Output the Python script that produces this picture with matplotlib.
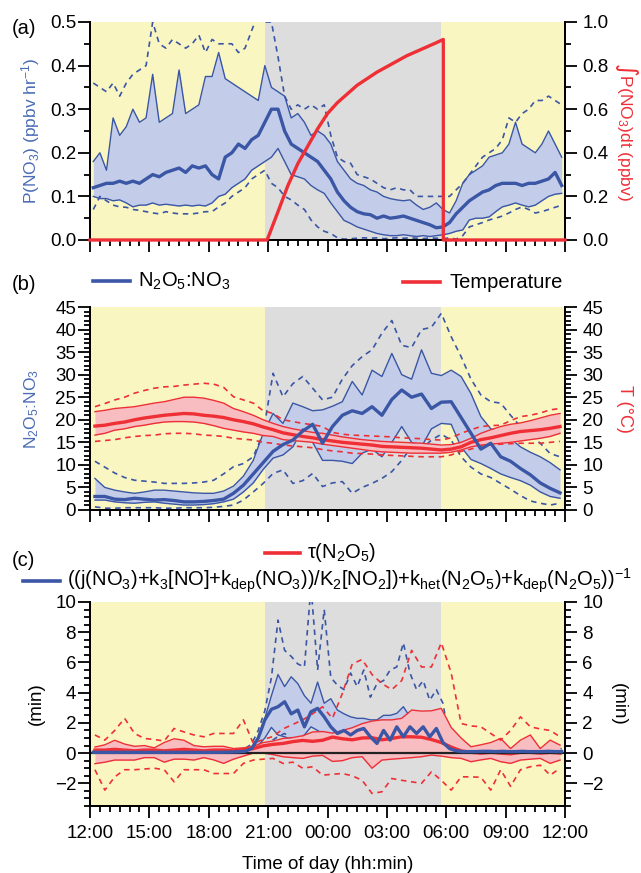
import numpy as np
import matplotlib.pyplot as plt
from matplotlib.lines import Line2D
from matplotlib.ticker import MultipleLocator

plt.rcParams['font.family'] = ['Liberation Sans', 'DejaVu Sans']
plt.rcParams['mathtext.default'] = 'regular'

# ---------------------------------------------------------------------------
# time grids, hours after 12:00 local
# ---------------------------------------------------------------------------
t20 = (np.arange(72) + 0.5) / 3.0      # 20-min bins
t30 = np.arange(48) * 0.5 + 0.25       # 30-min bins
NIGHT = (8.85, 17.72)                   # grey shading (sunset -> sunrise)

# ---------------------------------------------------------------------------
# (a) P(NO3), ppbv/hr  -- percentiles 10/25/50/75/90, 20-min bins
# ---------------------------------------------------------------------------
pno3_p50 = [0.12, 0.125, 0.13, 0.13, 0.135, 0.13, 0.135, 0.13, 0.14, 0.15, 0.145, 0.155,
            0.16, 0.165, 0.155, 0.17, 0.165, 0.17, 0.15, 0.14, 0.19, 0.20, 0.22, 0.21,
            0.23, 0.24, 0.27, 0.30, 0.30, 0.25, 0.22, 0.21, 0.20, 0.19, 0.18, 0.16,
            0.14, 0.11, 0.09, 0.075, 0.065, 0.06, 0.058, 0.05, 0.055, 0.05, 0.052, 0.055,
            0.05, 0.045, 0.04, 0.035, 0.028, 0.03, 0.04, 0.06, 0.075, 0.09, 0.10, 0.11,
            0.115, 0.125, 0.13, 0.13, 0.13, 0.125, 0.13, 0.13, 0.135, 0.14, 0.155, 0.125]
pno3_p75 = [0.18, 0.20, 0.16, 0.28, 0.24, 0.26, 0.30, 0.27, 0.28, 0.38, 0.27, 0.28,
            0.29, 0.39, 0.29, 0.30, 0.31, 0.375, 0.375, 0.43, 0.37, 0.36, 0.35, 0.34,
            0.33, 0.32, 0.40, 0.35, 0.34, 0.33, 0.28, 0.29, 0.27, 0.24, 0.25, 0.24,
            0.22, 0.18, 0.16, 0.14, 0.13, 0.125, 0.115, 0.11, 0.10, 0.095, 0.092, 0.09,
            0.092, 0.08, 0.07, 0.075, 0.085, 0.07, 0.062, 0.09, 0.13, 0.15, 0.16, 0.17,
            0.19, 0.195, 0.20, 0.22, 0.27, 0.22, 0.21, 0.20, 0.22, 0.25, 0.22, 0.19]
pno3_p25 = [0.10, 0.095, 0.095, 0.09, 0.092, 0.085, 0.076, 0.08, 0.08, 0.085, 0.08, 0.082,
            0.08, 0.078, 0.08, 0.078, 0.08, 0.078, 0.085, 0.10, 0.105, 0.12, 0.13, 0.14,
            0.16, 0.17, 0.18, 0.19, 0.21, 0.18, 0.15, 0.145, 0.14, 0.125, 0.115, 0.107,
            0.085, 0.065, 0.045, 0.038, 0.03, 0.025, 0.02, 0.015, 0.012, 0.01, 0.01, 0.012,
            0.01, 0.008, 0.01, 0.008, 0.01, 0.012, 0.015, 0.02, 0.023, 0.046, 0.05, 0.05,
            0.053, 0.065, 0.076, 0.08, 0.085, 0.08, 0.076, 0.08, 0.09, 0.10, 0.105, 0.107]
pno3_p90 = [0.36, 0.35, 0.34, 0.36, 0.33, 0.36, 0.38, 0.39, 0.40, 0.50, 0.45, 0.44,
            0.46, 0.45, 0.44, 0.45, 0.47, 0.43, 0.46, 0.45, 0.45, 0.45, 0.43, 0.44,
            0.48, 0.52, 0.50, 0.50, 0.42, 0.33, 0.30, 0.31, 0.30, 0.31, 0.30, 0.31,
            0.24, 0.19, 0.18, 0.176, 0.15, 0.145, 0.14, 0.13, 0.12, 0.115, 0.12, 0.115,
            0.115, 0.10, 0.10, 0.10, 0.10, 0.10, 0.10, 0.115, 0.13, 0.15, 0.17, 0.19,
            0.20, 0.21, 0.23, 0.28, 0.27, 0.29, 0.30, 0.32, 0.32, 0.33, 0.32, 0.31]
pno3_p10 = [0.07, 0.10, 0.09, 0.08, 0.076, 0.075, 0.07, 0.068, 0.065, 0.062, 0.06, 0.065,
            0.062, 0.06, 0.06, 0.06, 0.062, 0.065, 0.065, 0.076, 0.085, 0.10, 0.11, 0.12,
            0.14, 0.15, 0.16, 0.13, 0.12, 0.10, 0.092, 0.08, 0.07, 0.046, 0.03, 0.02,
            0.015, 0.005, 0.002, 0.003, 0.004, 0.005, 0.004, 0.005, 0.003, 0.004, 0.005, 0.004,
            0.005, 0.004, 0.003, 0.005, 0.004, 0.003, 0.005, 0.002, 0.01, 0.03, 0.035, 0.04,
            0.046, 0.05, 0.055, 0.062, 0.07, 0.076, 0.07, 0.062, 0.065, 0.07, 0.075, 0.08]

# integral of P(NO3) through the night, ppbv
int_t = [0.0, 8.95, 9.5, 10.0, 10.5, 11.0, 11.5, 12.0, 12.5, 13.0, 13.5, 14.0,
         14.5, 15.0, 15.5, 16.0, 16.5, 17.0, 17.5, 17.85, 17.85, 24.0]
int_v = [0.0, 0.0, 0.13, 0.25, 0.35, 0.43, 0.51, 0.58, 0.63, 0.67, 0.71, 0.74,
         0.77, 0.795, 0.82, 0.845, 0.865, 0.885, 0.905, 0.92, 0.0, 0.0]

# ---------------------------------------------------------------------------
# (b) N2O5:NO3 ratio and temperature, 30-min bins
# ---------------------------------------------------------------------------
ratio_p50 = [3.0, 3.0, 2.4, 2.3, 2.6, 2.4, 2.2, 2.3,
             2.1, 1.8, 1.8, 1.9, 2.1, 2.4, 3.7, 5.5,
             8.0, 10.5, 13.0, 14.5, 15.5, 17.5, 19.0, 14.8,
             18.5, 21.0, 22.0, 21.4, 22.9, 21.0, 24.5, 26.6,
             25.0, 25.7, 22.5, 23.9, 24.0, 20.5, 17.0, 13.5,
             14.8, 11.8, 10.8, 9.2, 7.8, 6.0, 4.8, 3.8]
ratio_p75 = [7.0, 5.0, 4.4, 4.0, 3.7, 4.0, 4.4, 4.4,
             4.2, 4.0, 3.8, 3.7, 3.7, 4.2, 5.3, 7.5,
             11.0, 17.0, 21.4, 19.2, 23.7, 22.9, 22.0, 22.2,
             23.0, 24.0, 28.5, 25.5, 31.0, 29.6, 34.7, 30.0,
             29.0, 35.5, 30.3, 29.8, 31.0, 29.6, 25.8, 20.7,
             18.0, 17.2, 15.8, 14.0, 12.8, 11.8, 10.5, 8.9]
ratio_p25 = [2.2, 2.2, 1.8, 1.6, 1.5, 1.7, 1.8, 1.5,
             1.3, 1.1, 1.1, 1.2, 1.4, 1.8, 2.4, 4.0,
             6.0, 9.0, 11.5, 12.2, 14.0, 18.0, 15.0, 11.0,
             11.0, 10.8, 10.3, 12.6, 13.5, 11.8, 15.0, 18.5,
             15.0, 14.0, 18.0, 19.2, 19.0, 14.0, 11.2, 10.3,
             9.2, 8.0, 7.2, 6.5, 5.5, 4.0, 3.0, 2.6]
ratio_p90 = [10.8, 9.5, 8.2, 7.2, 6.6, 6.4, 6.2, 5.9,
             5.9, 5.9, 6.0, 6.2, 6.6, 8.0, 9.6, 10.3,
             11.8, 17.0, 30.3, 25.1, 28.0, 29.6, 27.0, 24.4,
             25.0, 29.0, 32.0, 34.0, 35.5, 39.2, 42.0, 36.5,
             36.0, 40.0, 40.5, 43.6, 38.4, 34.0, 29.0, 25.5,
             24.0, 23.7, 21.0, 18.5, 16.5, 14.8, 12.5, 11.8]
ratio_p10 = [0.7, 0.4, 0.4, 0.5, 0.5, 0.5, 0.5, 0.4,
             0.4, 0.5, 0.5, 0.5, 0.6, 0.8, 1.1, 2.2,
             4.0, 5.9, 8.1, 8.9, 5.9, 6.5, 8.1, 5.2,
             6.0, 6.3, 3.7, 5.0, 5.9, 7.0, 8.5, 11.0,
             14.0, 13.5, 15.5, 16.8, 15.5, 11.8, 9.5, 8.0,
             7.2, 5.9, 4.6, 3.2, 2.0, 1.5, 1.1, 1.5]

temp_p50 = [18.6, 18.8, 19.2, 19.5, 20.0, 20.4, 20.7, 21.0,
            21.2, 21.4, 21.3, 21.0, 20.8, 20.5, 20.0, 19.6,
            19.1, 18.4, 17.8, 17.1, 16.7, 16.3, 16.0, 15.6,
            15.3, 15.0, 14.8, 14.6, 14.4, 14.1, 14.0, 13.9,
            13.8, 13.7, 13.5, 13.3, 13.5, 14.0, 15.0, 15.6,
            16.0, 16.5, 17.0, 17.4, 17.6, 17.8, 18.1, 18.5]
temp_p75 = [21.8, 22.1, 22.5, 22.7, 22.9, 23.3, 23.7, 24.0,
            24.5, 25.0, 25.0, 24.8, 24.3, 23.7, 22.5, 21.8,
            21.0, 20.0, 19.2, 18.5, 18.0, 17.6, 17.2, 17.0,
            16.6, 16.2, 15.9, 15.6, 15.4, 15.2, 15.1, 15.0,
            14.9, 14.8, 14.6, 14.4, 14.5, 15.0, 15.9, 17.0,
            17.8, 18.5, 19.0, 19.3, 19.8, 20.4, 21.0, 21.4]
temp_p25 = [16.6, 17.0, 17.7, 18.0, 18.5, 18.8, 19.2, 19.5,
            19.6, 19.6, 19.5, 19.2, 18.7, 18.1, 17.7, 17.3,
            17.0, 16.5, 16.3, 15.6, 15.4, 15.2, 15.0, 14.6,
            14.3, 14.0, 13.7, 13.4, 13.1, 12.9, 12.8, 12.7,
            12.6, 12.6, 12.6, 12.6, 12.8, 13.3, 14.0, 14.4,
            14.6, 14.8, 15.0, 15.3, 15.6, 15.9, 16.3, 17.0]
temp_p90 = [22.9, 23.6, 24.4, 25.0, 25.9, 26.5, 27.0, 27.3,
            27.4, 27.7, 27.9, 28.1, 27.9, 27.2, 25.1, 24.4,
            23.7, 22.0, 21.4, 20.0, 19.6, 19.2, 18.9, 18.5,
            17.2, 16.8, 16.6, 16.5, 16.4, 16.3, 16.2, 16.0,
            15.9, 15.8, 15.6, 15.5, 16.0, 17.0, 17.8, 18.5,
            18.7, 18.8, 19.8, 20.7, 21.0, 21.5, 22.2, 22.5]
temp_p10 = [15.2, 15.4, 15.6, 16.0, 16.3, 16.5, 16.6, 16.9,
            17.0, 17.0, 16.9, 16.6, 16.5, 16.3, 15.9, 15.7,
            15.5, 15.0, 14.8, 14.4, 14.2, 14.0, 13.8, 13.4,
            13.1, 12.9, 12.6, 12.5, 12.4, 12.2, 12.1, 12.0,
            11.9, 11.8, 11.8, 11.8, 12.2, 13.0, 13.5, 14.2,
            14.4, 14.6, 14.7, 14.8, 14.8, 14.8, 15.0, 15.2]

# ---------------------------------------------------------------------------
# (c) steady-state lifetime (blue, 20-min bins) and tau(N2O5) (red, 30-min)
# ---------------------------------------------------------------------------
ss_p50 = [0.05] * 12 + \
         [0.05, 0.05, 0.05, 0.05, 0.05, 0.05, 0.05, 0.05, 0.06, 0.07, 0.09, 0.12,
          0.3, 1.0, 2.2, 2.9, 3.07, 3.4, 2.6, 2.85, 1.74, 2.74, 2.96, 2.4,
          1.74, 1.3, 1.5, 1.2, 1.5, 1.63, 1.08, 0.64, 1.5, 0.86, 1.74, 1.08,
          1.74, 1.3, 1.74, 1.08, 1.63, 0.7, 0.3, 0.15, 0.1, 0.1, 0.1, 0.12,
          0.12, 0.1, 0.12, 0.1, 0.1, 0.12, 0.1, 0.1, 0.1, 0.12, 0.1, 0.1]
ss_p75 = [0.1] * 12 + \
         [0.1, 0.1, 0.1, 0.1, 0.1, 0.1, 0.1, 0.1, 0.12, 0.14, 0.18, 0.22,
          0.35, 1.0, 2.3, 3.8, 5.2, 4.4, 5.05, 4.6, 3.8, 3.3, 4.7, 3.3,
          3.6, 2.85, 2.6, 2.4, 2.3, 2.3, 2.2, 2.2, 2.5, 2.5, 2.63, 3.07,
          2.4, 2.2, 2.0, 1.8, 1.5, 0.9, 0.5, 0.3, 0.2, 0.18, 0.18, 0.2,
          0.2, 0.18, 0.2, 0.18, 0.18, 0.2, 0.18, 0.18, 0.18, 0.2, 0.18, 0.18]
ss_p25 = [0.02] * 12 + \
         [0.02, 0.02, 0.02, 0.02, 0.02, 0.02, 0.02, 0.02, 0.02, 0.03, 0.04, 0.05,
          0.15, 0.5, 1.0, 1.7, 1.2, 1.08, 0.9, 0.75, 1.2, 1.74, 1.5, 1.2,
          1.0, 0.9, 0.8, 0.8, 0.75, 0.7, 0.7, 0.6, 0.7, 0.65, 0.7, 0.65,
          0.7, 0.65, 0.6, 0.6, 0.55, 0.35, 0.15, 0.08, 0.05, 0.05, 0.05, 0.05,
          0.05, 0.05, 0.05, 0.05, 0.05, 0.05, 0.05, 0.05, 0.05, 0.05, 0.05, 0.05]
ss_p90 = [0.15] * 12 + \
         [0.15, 0.15, 0.15, 0.15, 0.15, 0.15, 0.15, 0.15, 0.15, 0.2, 0.25, 0.3,
          0.6, 1.5, 2.8, 5.0, 8.8, 6.8, 6.4, 5.9, 5.7, 11.0, 5.5, 9.5,
          5.0, 4.5, 4.2, 5.3, 4.4, 5.5, 3.7, 4.6, 4.8, 5.5, 5.7, 7.3,
          5.3, 4.2, 4.8, 3.5, 4.2, 3.3, 0.8, 0.4, 0.3, 0.3, 0.3, 0.3,
          0.3, 0.3, 0.3, 0.3, 0.3, 0.3, 0.3, 0.3, 0.3, 0.3, 0.3, 0.3]
ss_p10 = [0.0] * 24 + \
         [0.05, 0.2, 0.4, 0.8, 1.1, 1.3, 0.97, 0.6, 0.5, 0.45, 0.4, 0.35,
          0.3, 0.3, 0.3, 0.3, 0.3, 0.3, 0.3, 0.3, 0.3, 0.3, 0.3, 0.3,
          0.3, 0.3, 0.3, 0.25, 0.2, 0.1, 0.05, 0.0, 0.0, 0.0, 0.0, 0.0] + [0.0] * 12

tau_p50 = [0.2, 0.2, 0.25, 0.2, 0.15, 0.2, 0.2, 0.15,
           0.2, 0.25, 0.2, 0.15, 0.2, 0.2, 0.15, 0.25,
           0.3, 0.48, 0.58, 0.64, 0.76, 0.84, 0.78, 0.85,
           1.06, 0.95, 0.88, 1.0, 1.02, 0.88, 0.97, 1.08,
           1.08, 1.05, 0.9, 0.7, 0.4, 0.15, 0.05, 0.0,
           0.05, 0.0, -0.05, 0.05, 0.05, 0.0, 0.05, 0.0]
tau_p75 = [0.4, 0.55, 0.85, 0.6, 0.45, 0.5, 0.35, 0.7,
           0.95, 0.85, 0.5, 0.42, 0.45, 0.45, 0.3, 0.35,
           0.45, 0.7, 0.8, 0.97, 1.03, 1.15, 1.4, 1.43,
           1.32, 1.5, 1.68, 1.95, 2.12, 2.2, 2.2, 2.3,
           2.85, 2.78, 2.8, 2.96, 1.7, 1.0, 0.42, 0.55,
           0.7, 0.97, 0.3, 0.86, 1.2, 0.3, 0.86, 0.53]
tau_p25 = [-0.7, -0.6, -0.46, -0.46, -0.46, -0.3, -0.3, -0.6,
           -0.4, -0.4, -0.46, -0.3, -0.45, -0.68, -0.4, -0.2,
           0.0, 0.0, -0.1, -0.24, -0.3, -0.35, -0.2, -0.15,
           -0.55, -0.5, -0.3, -0.24, -1.0, -0.46, -0.4, -0.35,
           -0.3, -0.24, -0.13, -0.2, -0.3, -0.35, -0.57, -0.45,
           -0.35, -0.57, -0.68, -0.46, -0.4, -0.35, -0.68, -0.46]
tau_p90 = [1.2, 0.86, 1.5, 2.3, 1.3, 0.97, 0.9, 0.8,
           1.63, 1.4, 1.2, 1.08, 1.3, 1.3, 1.3, 2.2,
           0.64, 0.9, 1.1, 1.6, 1.9, 2.2, 2.6, 3.07,
           2.3, 3.95, 5.9, 6.2, 5.2, 4.6, 4.2, 4.8,
           6.8, 5.7, 5.7, 7.3, 5.3, 1.96, 1.8, 1.74,
           1.3, 0.86, 1.5, 2.4, 1.74, 1.6, 1.5, 1.08]
tau_p10 = [-1.1, -2.45, -1.57, -1.1, -1.1, -1.05, -1.0, -1.1,
           -1.9, -1.1, -1.1, -1.1, -1.35, -1.35, -1.35, -0.68,
           -0.46, -0.4, -0.35, -0.68, -0.6, -1.0, -0.9, -1.46,
           -1.4, -1.35, -1.5, -1.8, -2.67, -2.56, -1.68, -1.8,
           -1.9, -2.0, -1.24, -1.8, -2.45, -1.57, -1.57, -1.6,
           -2.45, -1.1, -2.2, -1.1, -0.9, -0.8, -1.46, -1.0]

XTICKS = np.arange(0, 25, 3)
XLABELS = ["12:00", "15:00", "18:00", "21:00", "00:00", "03:00", "06:00", "09:00", "12:00"]

# colours
YELLOW = "#faf6c2"
GREY = "#dcdddc"
BLUE = "#3a56a5"
BLUE_FILL = "#c3cdea"
BLUE_TXT = "#4a6cb5"
RED = "#ee2f36"
RED_FILL = "#f8bdc1"
DASH = (0, (3.3, 2.8))
LABEL_FS = 12.5


def background(ax):
    ax.axvspan(0, NIGHT[0], color=YELLOW, lw=0, zorder=0)
    ax.axvspan(NIGHT[0], NIGHT[1], color=GREY, lw=0, zorder=0)
    ax.axvspan(NIGHT[1], 24, color=YELLOW, lw=0, zorder=0)


def band(ax, t, p10, p25, p50, p75, p90, col, fill, z):
    ax.fill_between(t, p25, p75, color=fill, lw=0, zorder=z)
    ax.plot(t, p10, color=col, lw=1.2, ls=DASH, zorder=z + 0.2)
    ax.plot(t, p90, color=col, lw=1.2, ls=DASH, zorder=z + 0.2)
    ax.plot(t, p25, color=col, lw=1.0, zorder=z + 0.3)
    ax.plot(t, p75, color=col, lw=1.0, zorder=z + 0.3)
    ax.plot(t, p50, color=col, lw=2.4, zorder=z + 0.5)


def style(ax, right, show_xlabels):
    ax.set_xlim(0, 24)
    ax.set_xticks(XTICKS)
    ax.xaxis.set_minor_locator(MultipleLocator(0.5))
    if show_xlabels:
        ax.set_xticklabels(XLABELS)
    else:
        ax.set_xticklabels([])
    for a in (ax, right):
        a.spines['top'].set_visible(False)
        for s in ('left', 'right', 'bottom'):
            a.spines[s].set_linewidth(1.4)
        a.tick_params(which='major', direction='out', length=8.5, width=1.3,
                      labelsize=13.5, pad=1.5)
        a.tick_params(which='minor', direction='out', length=4.5, width=1.3)
    right.tick_params(which='major', pad=4)
    ax.tick_params(axis='x', which='major', pad=5.5)
    ax.set_facecolor('none')


fig = plt.figure(figsize=(6.41, 8.73), dpi=100)
L, W = 90 / 641, 475 / 641
ax_a = fig.add_axes([L, 1 - 240 / 873, W, 218 / 873])
ax_b = fig.add_axes([L, 1 - 510 / 873, W, 203 / 873])
ax_c = fig.add_axes([L, 1 - 806 / 873, W, 204 / 873])

# ---- (a) ------------------------------------------------------------------
background(ax_a)
band(ax_a, t20, pno3_p10, pno3_p25, pno3_p50, pno3_p75, pno3_p90, BLUE, BLUE_FILL, 2)
ax_a.set_ylim(0, 0.5)
ax_a.yaxis.set_major_locator(MultipleLocator(0.1))
ax_a.yaxis.set_minor_locator(MultipleLocator(0.05))
ax_a.yaxis.set_major_formatter(plt.FormatStrFormatter('%.1f'))
ax_a.set_ylabel(r"P(NO$_3$) (ppbv hr$^{-1}$)", color=BLUE_TXT, fontsize=LABEL_FS,
                va='center', ha='center')
ax_a.yaxis.set_label_coords(-0.126, 0.5)
ra = ax_a.twinx()
ra.plot(int_t, int_v, color=RED, lw=2.4, zorder=5, clip_on=False)
ra.set_ylim(0, 1.0)
ra.yaxis.set_major_locator(MultipleLocator(0.2))
ra.yaxis.set_minor_locator(MultipleLocator(0.1))
ra.yaxis.set_major_formatter(plt.FormatStrFormatter('%.1f'))
ra.set_ylabel(r"∫P(NO$_3$)dt (ppbv)", color=RED, fontsize=LABEL_FS, rotation=270,
              va='center', ha='center')
ra.yaxis.set_label_coords(1.13, 0.5)
style(ax_a, ra, False)

# ---- (b) ------------------------------------------------------------------
background(ax_b)
band(ax_b, t30, ratio_p10, ratio_p25, ratio_p50, ratio_p75, ratio_p90, BLUE, BLUE_FILL, 2)
band(ax_b, t30, temp_p10, temp_p25, temp_p50, temp_p75, temp_p90, RED, RED_FILL, 3)
ax_b.lines[4].set_zorder(3.6)   # blue median above the red band
ax_b.set_ylim(0, 45)
ax_b.yaxis.set_major_locator(MultipleLocator(5))
ax_b.yaxis.set_minor_locator(MultipleLocator(1))
ax_b.set_ylabel(r"N$_2$O$_5$:NO$_3$", color=BLUE_TXT, fontsize=LABEL_FS,
                va='center', ha='center')
ax_b.yaxis.set_label_coords(-0.122, 0.5)
rb = ax_b.twinx()
rb.set_ylim(0, 45)
rb.yaxis.set_major_locator(MultipleLocator(5))
rb.yaxis.set_minor_locator(MultipleLocator(1))
rb.set_ylabel("T (°C)", color=RED, fontsize=13, rotation=270, va='center', ha='center')
rb.yaxis.set_label_coords(1.126, 0.5)
style(ax_b, rb, False)

# ---- (c) ------------------------------------------------------------------
background(ax_c)
band(ax_c, t20, ss_p10, ss_p25, ss_p50, ss_p75, ss_p90, BLUE, BLUE_FILL, 2)
band(ax_c, t30, tau_p10, tau_p25, tau_p50, tau_p75, tau_p90, RED, RED_FILL, 3)
ax_c.lines[4].set_zorder(3.6)   # blue median above the red band
ax_c.axhline(0, color='#222222', lw=1.6, zorder=3.55)
ax_c.set_ylim(-3.5, 10)
ax_c.yaxis.set_major_locator(MultipleLocator(2))
ax_c.yaxis.set_minor_locator(MultipleLocator(0.5))
ax_c.set_ylabel("(min)", fontsize=13.5, va='center', ha='center')
ax_c.yaxis.set_label_coords(-0.112, 0.5)
rc = ax_c.twinx()
rc.set_ylim(-3.5, 10)
rc.yaxis.set_major_locator(MultipleLocator(2))
rc.yaxis.set_minor_locator(MultipleLocator(0.5))
rc.set_ylabel("(min)", fontsize=13.5, rotation=270, va='center', ha='center')
rc.yaxis.set_label_coords(1.112, 0.5)
style(ax_c, rc, True)
ax_c.set_xlabel("Time of day (hh:min)", fontsize=13.5, labelpad=10)

# ---- panel letters and legends ------------------------------------------------
def px(x, y):
    return x / 641, 1 - y / 873


for lab, y in (("(a)", 29), ("(b)", 284), ("(c)", 561)):
    fig.text(*px(12, y), lab, fontsize=14.5, va='center', ha='left')


def legend_item(x0, x1, y, col, text, tx, fs=14.5):
    (fx0, fy), (fx1, _) = px(x0, y), px(x1, y)
    fig.add_artist(Line2D([fx0, fx1], [fy, fy], color=col, lw=2.6,
                          transform=fig.transFigure))
    fig.text(*px(tx, y), text, fontsize=fs, va='center', ha='left')


legend_item(93, 130, 281, BLUE, r"N$_2$O$_5$:NO$_3$", 138)
legend_item(403, 440, 282, RED, "Temperature", 449)
legend_item(265, 300, 553, RED, r"$\tau$(N$_2$O$_5$)", 307)
legend_item(23, 60, 581, BLUE,
            r"((j(NO$_3$)+k$_3$[NO]+k$_{dep}$(NO$_3$))/K$_2$[NO$_2$])"
            r"+k$_{het}$(N$_2$O$_5$)+k$_{dep}$(N$_2$O$_5$))$^{-1}$", 67, fs=14.5)

fig.savefig("out.png", dpi=100)
